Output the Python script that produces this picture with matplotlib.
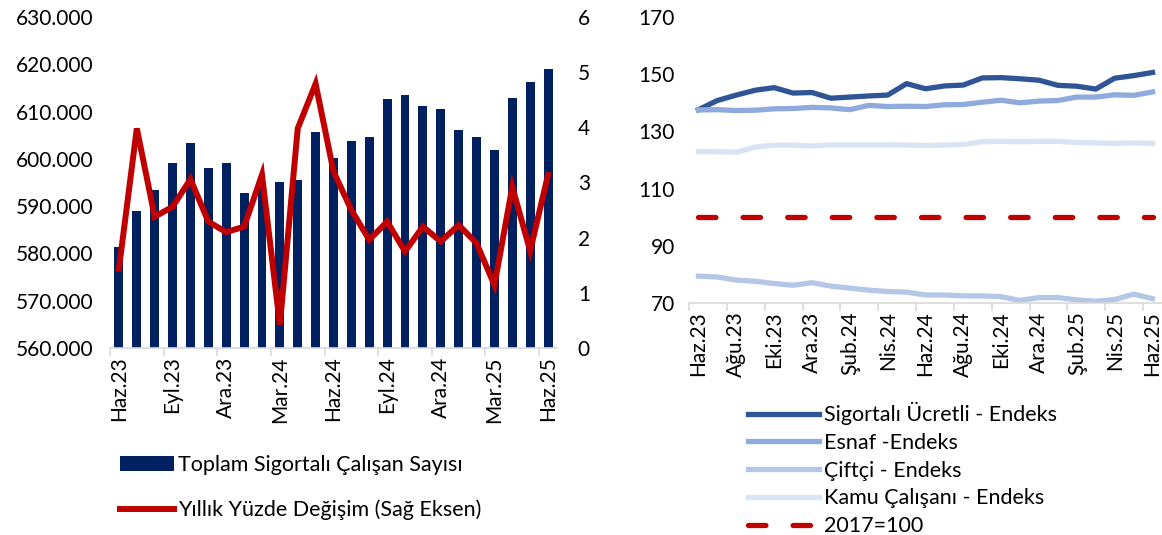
import matplotlib
matplotlib.use("Agg")
import matplotlib.pyplot as plt
import numpy as np
from matplotlib.ticker import FuncFormatter

plt.rcParams["font.family"] = ["Lato", "DejaVu Sans"]

# left panel: monthly Haz.23 .. Haz.25
months_left = ["Haz.23", "Tem.23", "Ağu.23", "Eyl.23", "Eki.23", "Kas.23", "Ara.23",
               "Oca.24", "Şub.24", "Mar.24", "Nis.24", "May.24", "Haz.24", "Tem.24",
               "Ağu.24", "Eyl.24", "Eki.24", "Kas.24", "Ara.24", "Oca.25", "Şub.25",
               "Mar.25", "Nis.25", "May.25", "Haz.25"]
toplam = [581400, 589000, 593400, 599100, 603300, 598000, 599100, 592800, 594500,
          595200, 595500, 605700, 600100, 603800, 604700, 612700, 613600, 611100,
          610500, 606000, 604600, 601800, 612800, 616300, 618900]
yillik = [1.44, 3.98, 2.38, 2.56, 3.06, 2.29, 2.10, 2.20, 3.14, 0.42, 3.98, 4.79,
          3.20, 2.50, 1.96, 2.29, 1.75, 2.20, 1.93, 2.23, 1.90, 1.14, 2.92, 1.76, 3.14]

# right panel: indices (2017=100)
months_right = months_left
ucretli = [137.6, 140.8, 142.7, 144.4, 145.3, 143.4, 143.6, 141.6, 142.0, 142.4,
           142.7, 146.7, 144.9, 145.9, 146.2, 148.7, 148.8, 148.4, 147.9, 146.1,
           145.8, 144.8, 148.6, 149.5, 150.6]
esnaf = [137.5, 137.6, 137.3, 137.4, 137.9, 138.0, 138.4, 138.2, 137.6, 139.1,
         138.7, 138.8, 138.7, 139.3, 139.4, 140.2, 140.9, 140.0, 140.6, 140.8,
         142.0, 142.0, 142.8, 142.6, 143.8]
ciftci = [79.4, 79.1, 78.0, 77.6, 76.8, 76.2, 77.1, 75.9, 75.2, 74.5, 74.0, 73.8,
          72.8, 72.8, 72.5, 72.5, 72.2, 70.9, 71.9, 71.9, 71.1, 70.6, 71.2, 73.1, 71.5]
kamu = [122.9, 122.9, 122.7, 124.5, 125.2, 125.2, 124.9, 125.3, 125.3, 125.3,
        125.3, 125.2, 125.1, 125.2, 125.4, 126.4, 126.5, 126.4, 126.5, 126.5,
        126.1, 126.0, 125.8, 126.0, 125.8]
baz = [100] * len(months_right)

FS = 15
LFS = 15.5
GRID = "#D9D9D9"

fig = plt.figure(figsize=(11.62, 5.35), dpi=100)
W, H = 1162, 535


def ax_at(x0, y0, x1, y1):
    return fig.add_axes([x0 / W, 1 - y1 / H, (x1 - x0) / W, (y1 - y0) / H])


def style_x(ax, labels, step):
    n = len(labels)
    ax.set_xlim(-0.5, n - 0.5)
    pos = np.arange(0, n, step)
    ax.set_xticks(pos)
    ax.set_xticklabels([labels[i] for i in pos], rotation=90, fontsize=FS)
    ax.tick_params(axis="x", which="major", length=0, pad=6)
    ax.set_xticks(np.arange(-0.5, n, step), minor=True)
    ax.tick_params(axis="x", which="minor", length=6, color=GRID, width=1.2)
    for s in ["top", "right", "left"]:
        ax.spines[s].set_visible(False)
    ax.spines["bottom"].set_color(GRID)
    ax.spines["bottom"].set_linewidth(1.2)


# ---- left panel
x = np.arange(len(months_left))
ax1 = ax_at(110, 17, 557, 348)
ax1.bar(x, toplam, width=0.5, color="#002060", label="Toplam Sigortalı Çalışan Sayısı", zorder=2)
ax1.set_ylim(560000, 630000)
ax1.set_yticks(np.arange(560000, 630001, 10000))
ax1.yaxis.set_major_formatter(FuncFormatter(lambda v, p: f"{v:,.0f}".replace(",", ".")))
ax1.tick_params(axis="y", length=0, labelsize=FS, pad=12)
style_x(ax1, months_left, 3)

ax2 = ax1.twinx()
ax2.plot(x, yillik, color="#C00000", lw=4.3, solid_joinstyle="miter",
         label="Yıllık Yüzde Değişim (Sağ Eksen)", zorder=3)
ax2.set_ylim(0, 6)
ax2.set_yticks(range(0, 7))
ax2.tick_params(axis="y", length=0, labelsize=FS, pad=15)
for s in ax2.spines.values():
    s.set_visible(False)

h1, l1 = ax1.get_legend_handles_labels()
h2, l2 = ax2.get_legend_handles_labels()
fig.legend(h1 + h2, l1 + l2, loc="upper left", bbox_to_anchor=(120 / W, 1 - 455 / H),
           frameon=False, fontsize=LFS, handlelength=2.5, handletextpad=0.2,
           labelspacing=1.15, borderpad=0, borderaxespad=0)

# ---- right panel
xr = np.arange(len(months_right))
ax3 = ax_at(689, 17, 1162, 303)
ax3.plot(xr, ucretli, color="#2F5597", lw=3.8, label="Sigortalı Ücretli - Endeks")
ax3.plot(xr, esnaf, color="#8FAADC", lw=3.8, label="Esnaf -Endeks")
ax3.plot(xr, ciftci, color="#B4C7E7", lw=3.8, label="Çiftçi - Endeks")
ax3.plot(xr, kamu, color="#DAE3F3", lw=3.8, label="Kamu Çalışanı - Endeks")
ax3.plot(xr, baz, color="#C00000", lw=3.8, dashes=(3.3, 5.15), dash_capstyle="round",
         label="2017=100")
ax3.set_ylim(70, 170)
ax3.set_yticks(range(70, 171, 20))
ax3.tick_params(axis="y", length=0, labelsize=FS, pad=10)
style_x(ax3, months_right, 2)

fig.legend(*ax3.get_legend_handles_labels(), loc="upper left",
           bbox_to_anchor=(748 / W, 1 - 402 / H), frameon=False, fontsize=LFS,
           handlelength=3.3, handletextpad=0.25, labelspacing=0.36, borderpad=0,
           borderaxespad=0)

fig.savefig("out.png", dpi=100)
